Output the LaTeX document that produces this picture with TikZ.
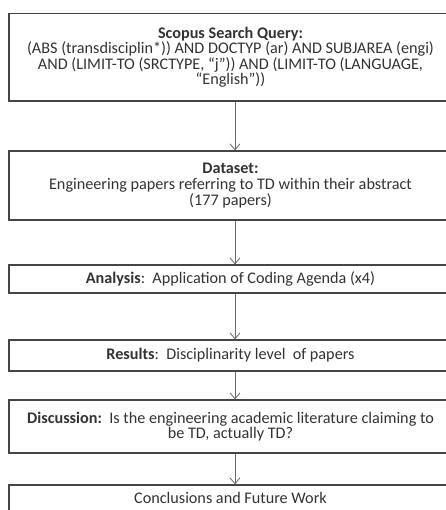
\documentclass[tikz,border=0pt]{standalone}
\usepackage{fontspec}
\setmainfont{Carlito}
\usetikzlibrary{arrows.meta}
\definecolor{boxline}{HTML}{454545}
\definecolor{arrowline}{HTML}{6A6A6A}
\definecolor{txt}{HTML}{333333}
\tikzset{
  flowbox/.style={draw=boxline, line width=1.1bp, rectangle, minimum width=443bp, inner sep=0pt, align=center, text=txt, font=\fontsize{16.2bp}{15.6bp}\selectfont},
  flowarrow/.style={draw=arrowline, line width=0.8bp, -{Straight Barb[length=6bp,width=10bp,line width=0.8bp]}}
}
\begin{document}
\begin{tikzpicture}[x=1bp,y=-1bp]
\useasboundingbox (0,0) rectangle (446,510);
\clip (0,0) rectangle (446,510);
\fill[white] (0,0) rectangle (446,510);
\coordinate (ax) at (235,0);
\node[flowbox, minimum height=87.5bp] (q) at (230.5,57.25) {\textbf{Scopus Search Query:}\\(ABS (transdisciplin*)) AND DOCTYP (ar) AND SUBJAREA (engi)\\AND (LIMIT-TO (SRCTYPE, “j”)) AND (LIMIT-TO (LANGUAGE,\\“English”))};
\node[flowbox, minimum height=69bp] (d) at (230.5,185.5) {\textbf{Dataset:}\\Engineering papers referring to TD within their abstract\\(177 papers)};
\node[flowbox, minimum height=28bp] (a) at (230.5,279) {\textbf{Analysis}:\ \ Application of Coding Agenda (x4)};
\node[flowbox, minimum height=31bp] (r) at (230.5,355.5) {\textbf{Results}:\ \ Disciplinarity level\ \ of papers};
\node[flowbox, minimum height=53bp] (s) at (230.5,426.5) {\textbf{Discussion:}\ \ Is the engineering academic literature claiming to\\be TD, actually TD?};
\node[flowbox, minimum height=26bp] (c) at (230.5,498) {Conclusions and Future Work};
\draw[flowarrow] (q.south -| ax) -- (d.north -| ax);
\draw[flowarrow] (d.south -| ax) -- (a.north -| ax);
\draw[flowarrow] (a.south -| ax) -- (r.north -| ax);
\draw[flowarrow] (r.south -| ax) -- (s.north -| ax);
\draw[flowarrow] (s.south -| ax) -- (c.north -| ax);
\end{tikzpicture}
\end{document}
